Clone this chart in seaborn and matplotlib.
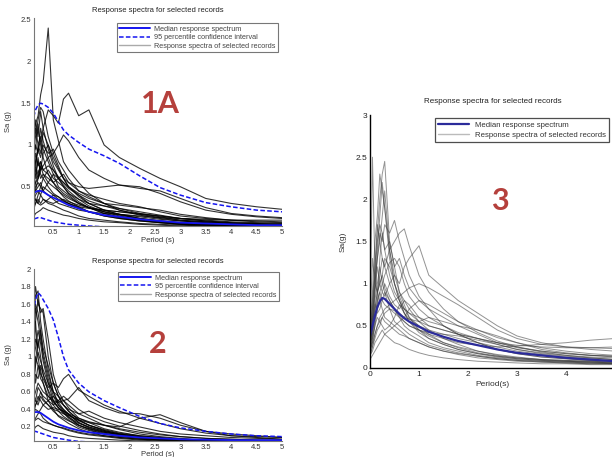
import numpy as np
import pandas as pd
import matplotlib
matplotlib.use("Agg")
import matplotlib.pyplot as plt
from matplotlib.lines import Line2D
from matplotlib.ticker import FuncFormatter
import seaborn as sns

sns.set_style("white")
plt.rcParams['font.family'] = ['Liberation Sans', 'DejaVu Sans']

PERIOD = [0, 0.05, 0.1, 0.15, 0.2, 0.25, 0.3, 0.4, 0.5, 0.6, 0.7, 0.8, 1.0, 1.2,
          1.5, 1.8, 2.2, 2.6, 3.0, 3.5, 4.0, 4.5, 5.0]

# ---------------- panel 1A ----------------
rec_1a = {
    "A1": [0.5,0.7,0.95,1.25,1.35,1.6,1.75,2.4,1.3,1.05,0.8,0.7,0.55,0.42,0.3,0.22,0.16,0.12,0.09,0.07,0.06,0.05,0.04],
    "A2": [0.3,0.4,0.6,0.8,0.95,1.05,1.2,1.42,1.35,1.26,1.55,1.62,1.35,1.42,1.0,0.85,0.72,0.6,0.5,0.36,0.3,0.26,0.23],
    "A3": [0.2,0.3,0.45,0.55,0.6,0.7,0.75,0.85,0.9,1.0,1.12,1.05,0.85,0.7,0.6,0.52,0.48,0.45,0.36,0.25,0.18,0.15,0.13],
    "A4": [0.3,0.5,0.9,1.1,1.3,1.45,1.4,1.1,0.9,0.75,0.6,0.5,0.4,0.3,0.22,0.17,0.12,0.09,0.07,0.05,0.04,0.03,0.03],
    "A5": [0.25,0.4,0.7,1.0,0.9,1.2,1.05,0.85,0.7,0.6,0.52,0.45,0.35,0.27,0.2,0.15,0.11,0.08,0.06,0.05,0.04,0.03,0.02],
    "A6": [0.2,0.3,0.5,0.8,0.95,0.85,1.0,0.9,0.95,0.8,0.7,0.6,0.45,0.38,0.3,0.24,0.18,0.14,0.1,0.08,0.06,0.05,0.04],
    "A7": [0.15,0.25,0.6,0.7,0.6,0.75,0.65,0.55,0.5,0.45,0.4,0.36,0.3,0.25,0.2,0.16,0.12,0.09,0.07,0.06,0.05,0.04,0.03],
    "A8": [0.1,0.2,0.35,0.5,0.55,0.5,0.6,0.7,0.6,0.55,0.5,0.42,0.35,0.3,0.27,0.24,0.2,0.16,0.12,0.09,0.07,0.06,0.05],
    "A9": [0.1,0.15,0.3,0.4,0.45,0.4,0.5,0.45,0.4,0.35,0.32,0.3,0.25,0.2,0.15,0.12,0.09,0.07,0.05,0.04,0.03,0.03,0.02],
    "A10": [0.05,0.1,0.2,0.3,0.35,0.3,0.35,0.3,0.28,0.25,0.22,0.2,0.15,0.12,0.1,0.08,0.06,0.05,0.04,0.03,0.02,0.02,0.02],
    "A11": [0.2,0.3,0.55,0.65,0.8,0.7,0.9,1.0,0.85,0.72,0.6,0.55,0.5,0.48,0.5,0.52,0.5,0.42,0.32,0.22,0.17,0.14,0.12],
    "A12": [0.1,0.15,0.25,0.3,0.4,0.5,0.45,0.55,0.65,0.6,0.55,0.5,0.42,0.36,0.3,0.28,0.25,0.22,0.17,0.13,0.1,0.09,0.08],
    "A13": [0.05,0.08,0.12,0.18,0.2,0.22,0.25,0.22,0.2,0.18,0.16,0.15,0.12,0.1,0.08,0.07,0.05,0.04,0.03,0.03,0.02,0.02,0.02],
    "A14": [0.35,0.6,0.85,1.2,1.0,1.1,0.95,0.8,0.65,0.5,0.45,0.4,0.3,0.25,0.18,0.14,0.1,0.08,0.06,0.05,0.04,0.04,0.03],
    "A15": [0.15,0.25,0.4,0.55,0.7,0.6,0.65,0.6,0.55,0.6,0.65,0.55,0.45,0.4,0.35,0.3,0.26,0.2,0.15,0.12,0.1,0.08,0.07],
    "A16": [0.12,0.2,0.35,0.45,0.5,0.55,0.45,0.4,0.35,0.3,0.28,0.26,0.22,0.2,0.18,0.17,0.15,0.13,0.12,0.11,0.1,0.1,0.1],
    "A17": [0.4,0.6,1.0,1.3,1.1,1.4,1.2,0.95,0.75,0.6,0.5,0.42,0.32,0.25,0.18,0.13,0.1,0.07,0.05,0.04,0.03,0.03,0.02],
    "A18": [0.3,0.5,0.8,0.7,1.0,0.9,1.15,1.0,0.8,0.7,0.6,0.5,0.38,0.3,0.22,0.17,0.12,0.09,0.07,0.05,0.04,0.04,0.03],
    "A19": [0.2,0.35,0.65,0.9,0.75,0.8,0.7,0.75,0.7,0.62,0.55,0.48,0.4,0.33,0.27,0.22,0.17,0.13,0.1,0.08,0.06,0.05,0.05],
    "A20": [0.25,0.45,0.75,0.6,0.85,0.65,0.6,0.5,0.42,0.38,0.33,0.3,0.24,0.2,0.16,0.13,0.1,0.08,0.06,0.05,0.04,0.03,0.03],
    "A21": [0.15,0.3,0.5,0.45,0.6,0.8,0.7,0.65,0.55,0.48,0.42,0.38,0.3,0.25,0.2,0.17,0.14,0.11,0.09,0.07,0.06,0.05,0.04],
    "A22": [0.1,0.2,0.4,0.35,0.3,0.4,0.35,0.32,0.3,0.33,0.35,0.32,0.28,0.25,0.22,0.2,0.17,0.15,0.12,0.1,0.08,0.07,0.06],
    "A23": [0.45,0.7,1.1,0.95,1.25,1.0,0.85,0.65,0.55,0.45,0.38,0.33,0.26,0.2,0.15,0.12,0.09,0.07,0.05,0.04,0.03,0.03,0.02],
    "A24": [0.08,0.12,0.25,0.35,0.3,0.28,0.3,0.35,0.4,0.38,0.34,0.3,0.26,0.24,0.22,0.2,0.18,0.15,0.12,0.09,0.07,0.06,0.05],
}
upper_1a = [1.1,1.2,1.3,1.42,1.48,1.5,1.49,1.45,1.38,1.28,1.18,1.12,1.03,0.95,0.87,0.78,0.63,0.49,0.4,0.31,0.26,0.22,0.2]
median_1a = [0.35,0.38,0.42,0.44,0.45,0.45,0.44,0.4,0.37,0.34,0.31,0.28,0.24,0.2,0.16,0.14,0.11,0.09,0.07,0.06,0.05,0.04,0.04]
lower_1a = [0.08,0.09,0.11,0.12,0.13,0.13,0.12,0.1,0.08,0.07,0.06,0.05,0.04,0.03,0.02,0.015,0.01,0.008,0.006,0.005,0.004,0.003,0.003]

# ---------------- panel 2 ----------------
rec_2 = {
    "B1": [0.6,1.1,1.5,1.8,1.6,1.55,1.5,1.0,0.7,0.55,0.45,0.38,0.28,0.22,0.16,0.12,0.09,0.07,0.05,0.04,0.03,0.03,0.02],
    "B2": [0.5,0.9,1.3,1.7,1.75,1.4,1.2,0.85,0.6,0.45,0.38,0.32,0.22,0.17,0.12,0.09,0.07,0.05,0.04,0.03,0.03,0.02,0.02],
    "B3": [0.4,0.7,1.1,1.4,1.65,1.5,1.55,1.2,0.8,0.6,0.5,0.42,0.3,0.25,0.18,0.14,0.1,0.08,0.06,0.05,0.04,0.03,0.03],
    "B4": [0.3,0.6,1.0,1.2,1.1,1.3,1.0,0.75,0.55,0.45,0.4,0.35,0.25,0.2,0.15,0.11,0.08,0.06,0.05,0.04,0.03,0.03,0.02],
    "B5": [0.25,0.4,0.7,0.9,1.05,0.95,0.85,0.7,0.6,0.55,0.5,0.45,0.35,0.3,0.22,0.17,0.12,0.09,0.07,0.05,0.04,0.04,0.03],
    "B6": [0.2,0.35,0.55,0.8,0.75,0.9,0.8,0.65,0.7,0.65,0.75,0.8,0.62,0.55,0.45,0.38,0.3,0.24,0.18,0.13,0.1,0.09,0.08],
    "B7": [0.15,0.3,0.5,0.6,0.7,0.65,0.6,0.55,0.5,0.48,0.5,0.52,0.65,0.5,0.42,0.36,0.35,0.3,0.22,0.15,0.12,0.1,0.08],
    "B8": [0.2,0.3,0.45,0.5,0.45,0.55,0.5,0.45,0.4,0.38,0.35,0.33,0.28,0.25,0.22,0.2,0.3,0.34,0.25,0.15,0.1,0.08,0.06],
    "B9": [0.1,0.2,0.35,0.4,0.38,0.35,0.3,0.25,0.22,0.2,0.18,0.16,0.13,0.11,0.09,0.07,0.05,0.04,0.03,0.03,0.02,0.02,0.02],
    "B10": [0.15,0.25,0.5,0.95,1.2,1.0,0.8,0.6,0.45,0.38,0.32,0.28,0.2,0.16,0.12,0.1,0.07,0.06,0.05,0.04,0.03,0.03,0.02],
    "B11": [0.1,0.15,0.25,0.3,0.35,0.4,0.45,0.5,0.55,0.5,0.45,0.4,0.35,0.38,0.3,0.25,0.2,0.15,0.12,0.1,0.08,0.07,0.06],
    "B12": [0.05,0.1,0.15,0.2,0.22,0.2,0.18,0.16,0.14,0.13,0.12,0.1,0.08,0.07,0.06,0.05,0.04,0.03,0.03,0.02,0.02,0.02,0.02],
    "B13": [0.3,0.5,0.8,1.0,0.9,0.85,0.7,0.5,0.4,0.32,0.28,0.24,0.18,0.14,0.1,0.08,0.06,0.05,0.04,0.03,0.03,0.02,0.02],
    "B14": [0.12,0.2,0.3,0.45,0.55,0.5,0.45,0.4,0.42,0.4,0.38,0.35,0.3,0.26,0.22,0.18,0.14,0.11,0.09,0.07,0.06,0.05,0.05],
    "B15": [0.45,0.8,1.2,1.55,1.4,1.2,1.05,0.8,0.6,0.48,0.4,0.34,0.25,0.19,0.14,0.11,0.08,0.06,0.05,0.04,0.03,0.03,0.02],
    "B16": [0.35,0.6,0.95,1.1,1.3,1.15,0.95,0.7,0.5,0.42,0.36,0.3,0.22,0.18,0.13,0.1,0.08,0.06,0.05,0.04,0.03,0.03,0.02],
    "B17": [0.3,0.5,0.85,0.7,0.9,0.75,0.7,0.55,0.48,0.42,0.38,0.34,0.27,0.22,0.17,0.13,0.1,0.08,0.06,0.05,0.04,0.03,0.03],
    "B18": [0.2,0.35,0.6,0.5,0.65,0.6,0.52,0.45,0.38,0.33,0.3,0.27,0.22,0.18,0.14,0.11,0.08,0.06,0.05,0.04,0.03,0.03,0.02],
    "B19": [0.25,0.45,0.75,1.4,1.0,0.8,0.75,0.62,0.5,0.42,0.36,0.31,0.24,0.2,0.15,0.12,0.09,0.07,0.05,0.04,0.03,0.03,0.02],
    "B20": [0.15,0.25,0.4,0.45,0.5,0.6,0.55,0.5,0.45,0.5,0.55,0.5,0.4,0.33,0.26,0.21,0.16,0.12,0.09,0.07,0.06,0.05,0.04],
    "B21": [0.08,0.15,0.25,0.28,0.3,0.28,0.26,0.24,0.22,0.2,0.19,0.17,0.14,0.12,0.1,0.08,0.06,0.05,0.04,0.03,0.03,0.02,0.02],
    "B22": [0.4,0.7,1.05,1.6,1.5,1.3,1.1,0.9,0.7,0.55,0.45,0.38,0.28,0.22,0.16,0.12,0.09,0.07,0.05,0.04,0.03,0.03,0.02],
}
upper_2 = [1.2,1.35,1.5,1.65,1.73,1.7,1.65,1.55,1.42,1.22,1.0,0.85,0.7,0.6,0.5,0.42,0.32,0.24,0.19,0.15,0.12,0.1,0.09]
median_2 = [0.3,0.33,0.36,0.37,0.37,0.36,0.34,0.3,0.26,0.23,0.21,0.19,0.16,0.14,0.12,0.1,0.08,0.07,0.06,0.055,0.05,0.05,0.05]
lower_2 = [0.1,0.12,0.14,0.15,0.14,0.13,0.12,0.1,0.08,0.07,0.06,0.05,0.035,0.03,0.025,0.02,0.015,0.012,0.01,0.01,0.01,0.01,0.01]

# ---------------- panel 3 ----------------
rec_3 = {
    "C1": [0.5,2.5,1.2,0.9,1.0,1.1,0.95,0.8,0.7,0.6,0.5,0.45,0.38,0.3,0.24,0.2,0.15,0.12,0.1,0.08,0.07,0.06,0.05],
    "C2": [0.4,0.8,1.2,1.6,2.0,2.3,2.45,1.5,1.2,0.9,0.8,0.7,0.55,0.45,0.35,0.28,0.2,0.15,0.12,0.1,0.08,0.07,0.06],
    "C3": [0.3,0.5,0.9,1.4,1.8,2.2,1.9,1.3,1.0,0.85,0.7,0.6,0.5,0.4,0.3,0.25,0.2,0.16,0.13,0.1,0.09,0.08,0.07],
    "C4": [0.35,0.6,1.0,1.3,1.6,1.5,1.7,1.6,1.75,1.5,1.3,1.1,0.85,0.7,0.5,0.4,0.3,0.22,0.17,0.13,0.11,0.09,0.08],
    "C5": [0.25,0.4,0.7,0.9,1.1,1.3,1.2,1.4,1.5,1.6,1.65,1.45,1.1,0.9,0.7,0.55,0.42,0.32,0.25,0.19,0.15,0.12,0.1],
    "C6": [0.2,0.3,0.5,0.7,0.8,0.9,0.85,1.0,1.1,1.0,1.2,1.3,1.45,1.1,0.95,0.8,0.65,0.5,0.38,0.3,0.25,0.22,0.2],
    "C7": [0.15,0.25,0.4,0.5,0.6,0.65,0.7,0.75,0.8,0.85,0.9,0.95,1.0,0.95,0.85,0.75,0.6,0.45,0.35,0.28,0.25,0.24,0.23],
    "C8": [0.3,0.45,0.6,0.8,0.9,0.8,0.75,0.7,0.65,0.6,0.55,0.5,0.45,0.4,0.35,0.3,0.27,0.25,0.26,0.28,0.3,0.33,0.35],
    "C9": [0.2,0.35,0.5,0.6,0.55,0.5,0.45,0.5,0.45,0.4,0.38,0.35,0.3,0.25,0.2,0.16,0.12,0.1,0.08,0.07,0.06,0.05,0.05],
    "C10": [0.25,0.5,0.8,1.0,1.2,1.0,0.9,0.8,0.7,0.65,0.6,0.58,0.55,0.6,0.55,0.5,0.45,0.36,0.3,0.22,0.18,0.15,0.13],
    "C11": [0.15,0.2,0.3,0.35,0.4,0.45,0.4,0.35,0.3,0.28,0.25,0.22,0.18,0.15,0.12,0.1,0.08,0.07,0.06,0.05,0.05,0.04,0.04],
    "C12": [0.4,0.7,1.1,1.5,1.7,1.6,1.4,1.1,0.9,0.8,0.7,0.65,0.6,0.55,0.5,0.42,0.35,0.3,0.25,0.2,0.17,0.15,0.14],
    "C13": [0.3,0.5,0.7,0.9,1.0,1.1,1.3,1.2,1.0,0.8,0.65,0.55,0.42,0.35,0.28,0.22,0.17,0.13,0.11,0.09,0.08,0.07,0.06],
    "C14": [0.2,0.3,0.4,0.5,0.55,0.6,0.65,0.7,0.68,0.62,0.55,0.5,0.45,0.42,0.4,0.38,0.33,0.28,0.22,0.18,0.15,0.13,0.12],
    "C15": [0.45,0.9,1.5,1.8,2.3,2.1,1.9,1.4,1.1,0.9,0.75,0.6,0.45,0.35,0.28,0.22,0.17,0.14,0.12,0.1,0.09,0.08,0.07],
    "C16": [0.1,0.15,0.2,0.25,0.3,0.35,0.4,0.45,0.5,0.55,0.6,0.7,0.8,0.75,0.65,0.55,0.45,0.38,0.3,0.24,0.2,0.17,0.15],
    "C17": [0.35,0.55,0.9,1.2,1.0,0.9,1.0,0.85,0.75,0.7,0.8,0.75,0.6,0.5,0.45,0.4,0.35,0.28,0.22,0.17,0.14,0.12,0.1],
    "C18": [0.5,1.3,1.0,0.9,0.8,0.7,0.6,0.55,0.5,0.45,0.4,0.35,0.3,0.25,0.2,0.17,0.14,0.11,0.09,0.08,0.07,0.06,0.05],
    "C19": [0.25,0.4,0.6,0.8,1.3,1.6,1.4,1.5,1.2,1.3,1.1,0.95,0.8,0.7,0.6,0.5,0.4,0.3,0.24,0.2,0.17,0.15,0.14],
    "C20": [0.15,0.25,0.35,0.45,0.5,0.6,0.55,0.5,0.6,0.75,0.7,0.65,0.55,0.5,0.45,0.4,0.35,0.3,0.27,0.25,0.24,0.24,0.25],
    "C21": [0.3,0.6,1.0,1.3,1.5,1.8,2.1,1.4,1.0,0.8,0.65,0.55,0.45,0.38,0.3,0.24,0.18,0.14,0.11,0.09,0.08,0.07,0.06],
    "C22": [0.2,0.35,0.55,0.75,0.9,1.0,1.1,1.25,1.3,1.2,1.0,0.85,0.7,0.6,0.5,0.4,0.3,0.22,0.17,0.13,0.11,0.09,0.08],
    "C23": [0.25,0.5,0.75,0.65,0.7,0.8,0.9,0.7,0.55,0.5,0.45,0.4,0.33,0.27,0.22,0.18,0.14,0.11,0.09,0.07,0.06,0.05,0.05],
    "C24": [0.35,0.7,1.2,1.7,1.5,1.3,1.2,1.0,0.85,0.75,0.65,0.58,0.5,0.45,0.4,0.35,0.3,0.25,0.2,0.16,0.13,0.11,0.1],
}
median_3 = [0.38,0.5,0.62,0.72,0.79,0.83,0.82,0.76,0.7,0.64,0.59,0.55,0.49,0.43,0.37,0.32,0.27,0.22,0.18,0.15,0.12,0.1,0.08]

TITLE = "Response spectra for selected records"
LBL_MED = "Median response spectrum"
LBL_CI = "95 percentile confidence interval"
LBL_REC = "Response spectra of selected records"


def long_df(recs):
    rows = []
    for name, vals in recs.items():
        for t, v in zip(PERIOD, vals):
            rows.append((name, t, v))
    return pd.DataFrame(rows, columns=["record", "period", "sa"])


def curve_df(vals):
    return pd.DataFrame({"period": PERIOD, "sa": vals})


fmt = FuncFormatter(lambda v, p: "%g" % v)

W, H = 612, 457
fig = plt.figure(figsize=(6.12, 4.57), dpi=100)
fig.patch.set_facecolor("white")


def pos(l, t, r, b):
    return [l / W, 1 - b / H, (r - l) / W, (b - t) / H]


def style_matlab(ax, spine_color):
    for s in ["top", "right"]:
        ax.spines[s].set_visible(False)
    for s in ["left", "bottom"]:
        ax.spines[s].set_color(spine_color)
        ax.spines[s].set_linewidth(0.8)
    ax.tick_params(direction="in", length=2, width=0.5, labelsize=5.5,
                   colors="#333333", pad=2)
    ax.xaxis.set_major_formatter(fmt)
    ax.yaxis.set_major_formatter(fmt)


def panel_ci(ax, recs, upper, med, lower, ylim, yticks, leg_anchor, xlabelpad):
    sns.lineplot(data=long_df(recs), x="period", y="sa", units="record",
                 estimator=None, color="black", lw=0.8, alpha=0.8, ax=ax,
                 legend=False)
    sns.lineplot(data=curve_df(upper), x="period", y="sa", color="#1515f0",
                 lw=1.1, ls=(0, (3, 1.5)), ax=ax)
    sns.lineplot(data=curve_df(lower), x="period", y="sa", color="#1515f0",
                 lw=1.1, ls=(0, (3, 1.5)), ax=ax)
    sns.lineplot(data=curve_df(med), x="period", y="sa", color="#1515f0",
                 lw=1.3, ax=ax)
    ax.set_xlim(0.12, 5)
    ax.set_ylim(*ylim)
    ax.set_xticks(np.arange(0.5, 5.01, 0.5))
    ax.set_yticks(yticks)
    style_matlab(ax, "#777777")
    ax.set_title(TITLE, fontsize=5.5, pad=4, color="#222222")
    ax.set_xlabel("Period (s)", fontsize=5.5, labelpad=xlabelpad, color="#333333")
    ax.set_ylabel("Sa (g)", fontsize=5.5, labelpad=6, color="#333333")
    handles = [Line2D([], [], color="#1515f0", lw=1.4),
               Line2D([], [], color="#1515f0", lw=1.1, ls=(0, (3, 1.5))),
               Line2D([], [], color="#aaaaaa", lw=1.0)]
    leg = ax.legend(handles, [LBL_MED, LBL_CI, LBL_REC], loc="upper right",
                    bbox_to_anchor=leg_anchor, fontsize=5.2, frameon=True,
                    fancybox=False, borderpad=0.35, labelspacing=0.2,
                    handlelength=4.2, handletextpad=0.6, borderaxespad=0)
    leg.get_frame().set_edgecolor("#555555")
    leg.get_frame().set_linewidth(0.8)
    for t in leg.get_texts():
        t.set_color("#444444")


# Panel 1A
ax1 = fig.add_axes(pos(34, 18, 282, 226))
panel_ci(ax1, rec_1a, upper_1a, median_1a, lower_1a, (0.03, 2.52),
         [0.5, 1, 1.5, 2, 2.5], (0.984, 0.976), 1)

# Panel 2
ax2 = fig.add_axes(pos(34, 269, 282, 441))
panel_ci(ax2, rec_2, upper_2, median_2, lower_2, (0.04, 2.0),
         np.round(np.arange(0.2, 2.01, 0.2), 1), (0.988, 0.983), 0)

# Panel 3
ax3 = fig.add_axes(pos(370, 115, 615, 368))
sns.lineplot(data=long_df(rec_3), x="period", y="sa", units="record",
             estimator=None, color="#3a3a3a", lw=0.7, alpha=0.55, ax=ax3,
             legend=False)
sns.lineplot(data=curve_df(median_3), x="period", y="sa", color="#2b2b9a",
             lw=1.6, ax=ax3)
ax3.set_xlim(0, 5)
ax3.set_ylim(0, 3)
ax3.set_xticks([0, 1, 2, 3, 4])
ax3.set_yticks([0, 0.5, 1, 1.5, 2, 2.5, 3])
style_matlab(ax3, "black")
ax3.spines["left"].set_linewidth(1.0)
ax3.spines["bottom"].set_linewidth(1.0)
ax3.tick_params(labelsize=6, colors="#222222")
ax3.set_title(TITLE, fontsize=5.8, pad=9, color="#222222")
ax3.set_xlabel("Period(s)", fontsize=6, labelpad=2, color="#333333")
ax3.set_ylabel("Sa(g)", fontsize=6, labelpad=6, color="#333333")
h3 = [Line2D([], [], color="#2b2b9a", lw=1.6),
      Line2D([], [], color="#bbbbbb", lw=1.0)]
leg3 = ax3.legend(h3, [LBL_MED, LBL_REC], loc="upper right",
                  bbox_to_anchor=(0.976, 0.988), fontsize=5.6, frameon=True,
                  fancybox=False, borderpad=0.45, labelspacing=0.3,
                  handlelength=4.0, handletextpad=0.7, borderaxespad=0)
leg3.get_frame().set_edgecolor("#222222")
leg3.get_frame().set_linewidth(0.9)
for t in leg3.get_texts():
    t.set_color("#333333")

# Big panel labels
lab_kw = dict(fontsize=22, fontweight="bold", color="#b5403c",
              ha="center", va="center", family=["Lato", "DejaVu Sans"])
fig.text(160 / W, 1 - 104 / H, "1A", **lab_kw)
fig.text(158 / W, 1 - 344 / H, "2", **lab_kw)
fig.text(500 / W, 1 - 201 / H, "3", **lab_kw)

fig.savefig("out.png", dpi=100, facecolor="white")
